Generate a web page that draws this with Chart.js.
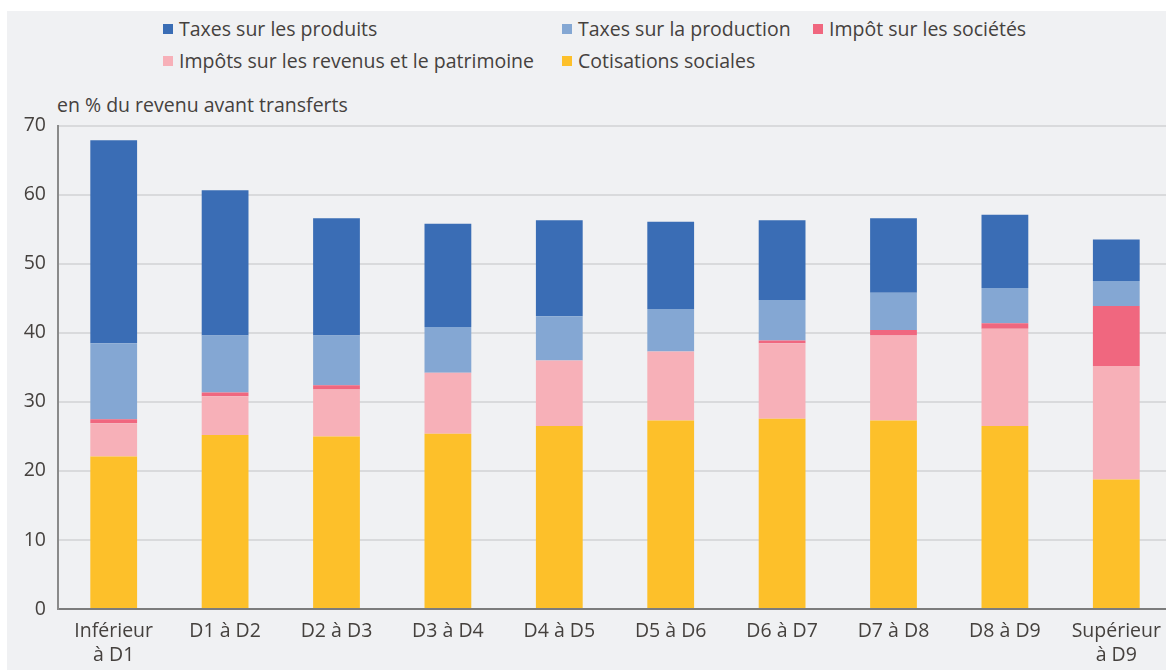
<!DOCTYPE html>
<html lang="fr">
<head>
<meta charset="utf-8">
<title>Prélèvements par décile</title>
<script src="https://cdn.jsdelivr.net/npm/chart.js@4.4.1/dist/chart.umd.min.js"></script>
<style>
  html, body { margin: 0; padding: 0; background: #fff; overflow: hidden; }
  body { width: 1166px; height: 670px; position: relative; font-family: "Open Sans", sans-serif; color: #45413e; }
  #panel { position: absolute; left: 7px; top: 11px; right: 0; bottom: 0; background: #f0f1f3; overflow: hidden; }
  .item { position: absolute; font-size: 19.5px; line-height: 24px; white-space: nowrap; display: flex; align-items: center; }
  .item i { display: inline-block; width: 10px; height: 10px; margin-right: 6px; }
  #unit { position: absolute; left: 50px; top: 82px; font-size: 19.5px; line-height: 24px; }
  #wrap { position: absolute; left: 0; top: 91px; width: 1165px; height: 568px; }
</style>
</head>
<body>
<div id="panel">
  <div id="legend"></div>
  <div id="unit">en % du revenu avant transferts</div>
  <div id="wrap"><canvas id="taxChart"></canvas></div>
</div>
<script>
  // niveaux de vie, du premier au dernier décile
  const categories = [
    ["Inférieur", "à D1"], "D1 à D2", "D2 à D3", "D3 à D4", "D4 à D5",
    "D5 à D6", "D6 à D7", "D7 à D8", "D8 à D9", ["Supérieur", "à D9"]
  ];

  // en % du revenu avant transferts
  const cotisations = [22.1, 25.2, 25.0, 25.4, 26.5, 27.3, 27.55, 27.3, 26.5, 18.75];
  const impotsRevenus = [4.8, 5.6, 6.8, 8.8, 9.5, 10.0, 10.95, 12.3, 14.1, 16.45];
  const impotSocietes = [0.6, 0.55, 0.6, 0.0, 0.0, 0.0, 0.4, 0.8, 0.8, 8.7];
  const taxesProduction = [11.0, 8.25, 7.2, 6.65, 6.4, 6.15, 5.85, 5.4, 5.1, 3.6];
  const taxesProduits = [29.4, 21.05, 17.0, 14.95, 13.9, 12.65, 11.55, 10.8, 10.6, 6.0];

  const yTicks = [0, 10, 20, 30, 40, 50, 60, 70];

  const series = [
    { label: "Cotisations sociales", data: cotisations, color: "#fdc02a" },
    { label: "Impôts sur les revenus et le patrimoine", data: impotsRevenus, color: "#f7b0b8" },
    { label: "Impôt sur les sociétés", data: impotSocietes, color: "#f0677f" },
    { label: "Taxes sur la production", data: taxesProduction, color: "#84a7d3" },
    { label: "Taxes sur les produits", data: taxesProduits, color: "#3a6db5" }
  ];

  const textColor = "#45413e";
  const font = { family: "'Open Sans', sans-serif", size: 19.5 };

  const chart = new Chart(document.getElementById("taxChart"), {
    type: "bar",
    data: {
      labels: categories,
      datasets: series.map(s => ({
        label: s.label,
        data: s.data,
        backgroundColor: s.color,
        borderWidth: 0,
        barPercentage: 0.42,
        categoryPercentage: 1
      }))
    },
    options: {
      responsive: true,
      maintainAspectRatio: false,
      animation: false,
      layout: { padding: { top: 8, right: 0, bottom: 0, left: 0 } },
      plugins: { legend: { display: false }, tooltip: { enabled: false } },
      scales: {
        x: {
          stacked: true,
          grid: { display: false },
          border: { display: true, color: "#7c7c7c", width: 2 },
          ticks: { color: textColor, font: font, padding: 3, maxRotation: 0, autoSkip: false },
          afterFit: s => { s.height = 61; }
        },
        y: {
          stacked: true,
          min: 0,
          max: 70,
          afterBuildTicks: s => { s.ticks = yTicks.map(v => ({ value: v })); },
          grid: { color: "#d9dadc", lineWidth: 2, drawTicks: false },
          border: { display: true, color: "#8a8a8a", width: 2 },
          ticks: { color: textColor, font: font, padding: 12 },
          afterFit: s => { s.width = 51; }
        }
      }
    }
  });

  // légende sur deux lignes, colonnes alignées
  const legendOrder = [
    ["Taxes sur les produits", 156, 6],
    ["Taxes sur la production", 555, 6],
    ["Impôt sur les sociétés", 806, 6],
    ["Impôts sur les revenus et le patrimoine", 156, 38],
    ["Cotisations sociales", 555, 38]
  ];
  const legend = document.getElementById("legend");
  legendOrder.forEach(([label, left, top]) => {
    const ds = chart.data.datasets.find(d => d.label === label);
    const el = document.createElement("div");
    el.className = "item";
    el.style.left = left + "px";
    el.style.top = top + "px";
    el.innerHTML = '<i style="background:' + ds.backgroundColor + '"></i>' + ds.label;
    legend.appendChild(el);
  });
</script>
</body>
</html>
